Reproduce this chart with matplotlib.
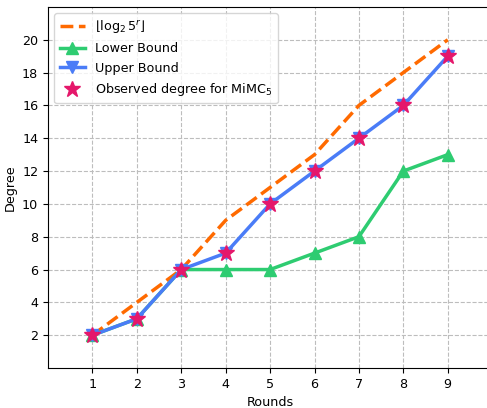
import matplotlib.pyplot as plt

rounds = [1, 2, 3, 4, 5, 6, 7, 8, 9]
log_bound = [2, 4, 6, 9, 11, 13, 16, 18, 20]
lower_bound = [2, 3, 6, 6, 6, 7, 8, 12, 13]
upper_bound = [2, 3, 6, 7, 10, 12, 14, 16, 19]
observed = [2, 3, 6, 7, 10, 12, 14, 16, 19]

plt.rcParams['font.size'] = 9.2

fig = plt.figure(figsize=(4.87, 4.08), dpi=100)
ax = fig.add_axes([0.0986, 0.098, 0.912, 0.885])

ax.plot(rounds, log_bound, '--', color='#FF6A00', lw=2.5, label=r'$\lfloor \log_2 5^r \rfloor$')
ax.plot(rounds, lower_bound, '-^', color='#2ECC71', lw=2.5, ms=9, label='Lower Bound')
ax.plot(rounds, upper_bound, '-v', color='#4A7CF7', lw=2.5, ms=9, label='Upper Bound')
ax.plot(rounds, observed, '*', color='#E5176B', ms=12, ls='none', label='Observed degree for MiMC$_5$')

ax.set_xlim(0, 10)
ax.set_ylim(0, 22)
ax.set_xticks(rounds)
ax.set_yticks(range(2, 21, 2))
ax.set_xlabel('Rounds')
ax.set_ylabel('Degree')
ax.grid(True, ls='--', color='#bdbdbd', lw=0.8)
ax.legend(loc='upper left')

fig.savefig('out.png', dpi=100)
